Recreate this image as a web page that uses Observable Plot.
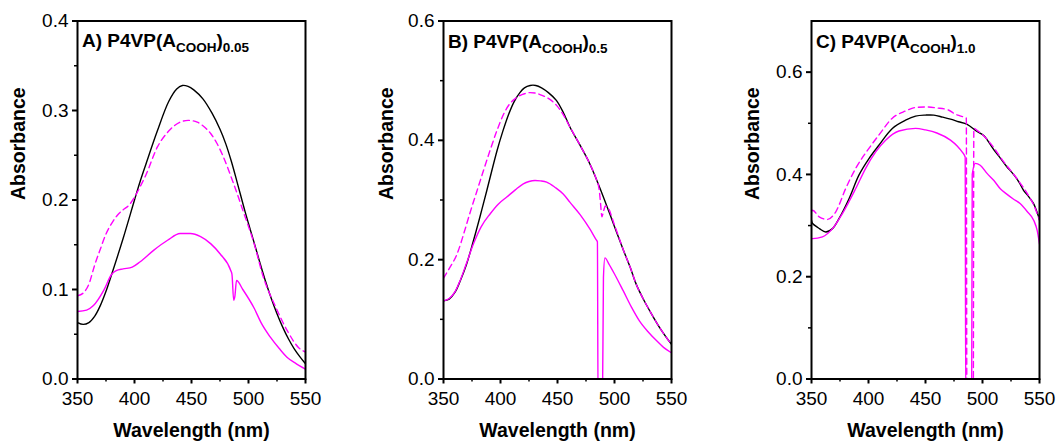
<!DOCTYPE html>
<html><head><meta charset="utf-8">
<script src="https://cdn.jsdelivr.net/npm/d3@7"></script>
<script src="https://cdn.jsdelivr.net/npm/@observablehq/plot@0.6"></script>
<style>
body{margin:0;background:#fff;}
#wrap{position:relative;width:1057px;height:442px;font-family:"Liberation Sans",Arial,sans-serif;}
#wrap svg{position:absolute;top:0;overflow:visible;}
</style></head><body><div id="wrap"></div>
<script>
// ---------- tick values ----------
const xMajor = [350, 400, 450, 500, 550];
const xMinor = [375, 425, 475, 525];
const aYMajor = [0, 0.1, 0.2, 0.3, 0.4];
const aYMinor = [0.05, 0.15, 0.25, 0.35];
const bYMajor = [0, 0.2, 0.4, 0.6];
const bYMinor = [0.1, 0.3, 0.5];
const cYMajor = [0, 0.2, 0.4, 0.6];
const cYMinor = [0.1, 0.3, 0.5];

// ---------- labels ----------
const xLabel = "Wavelength (nm)";
const yLabel = "Absorbance";
const panelLetters = ["A) P4VP(A", "B) P4VP(A", "C) P4VP(A"];
const panelSub1 = "COOH";
const panelSub2 = ["0.05", "0.5", "1.0"];

// ---------- Panel A ----------
const aBlackNm = [350,355,360,365,370,375,380,390,400,405,410,420,430,437,442,447,452,460,468,475,480,485,490,497,505,510,515,520,525,530,535,540,545,550];
const aBlack   = [.063,.061,.063,.070,.082,.098,.117,.157,.200,.221,.240,.277,.310,.324,.328,.327,.323,.313,.297,.279,.263,.243,.220,.187,.152,.130,.109,.090,.073,.058,.045,.034,.025,.017];
const aDashNm  = [350,355,360,365,370,375,380,385,390,395,400,405,410,420,430,440,447,455,460,467,472,478,487,496,505,513,524,534,544,550];
const aDash    = [.093,.096,.106,.127,.145,.162,.174,.183,.189,.194,.203,.215,.228,.259,.277,.287,.289,.287,.283,.274,.264,.248,.218,.185,.151,.114,.080,.054,.035,.030];
const aSolidNm = [350,358,364,373,380,384,390,398,405,417,429,440,449,458,467,475,484.5,485.5,487,488,489.5,495,505,511,519,527,534,542,550];
const aSolid   = [.0755,.077,.082,.099,.117,.121,.123,.125,.131,.144,.155,.1625,.1625,.159,.151,.140,.121,.117,.088,.092,.110,.100,.079,.063,.047,.034,.024,.017,.011];

// ---------- Panel B ----------
const bBlackNm = [350,355,360,365,370,376,382,388,397,402,407,412,417,421,426,431,436,442,449,455,461,470,478.5,487,496,502,508,514,519,525,531,540,550];
const bBlack   = [.131,.134,.145,.166,.191,.230,.272,.316,.383,.415,.443,.465,.480,.488,.492,.492,.488,.480,.467,.447,.422,.391,.360,.321,.276,.245,.215,.186,.159,.135,.114,.085,.058];
const bDashNm  = [350,355,362,368,373,379,385,391,397,403,408,413,417,421,426,431,437,443,449,455,461,470,478.5,484,486.5,487.5,489,490.2,492,494,500,508,514,519,525,531,540,550];
const bDash    = [.169,.185,.210,.245,.277,.313,.349,.384,.417,.445,.461,.470,.475,.478,.480,.479,.475,.469,.459,.443,.422,.391,.360,.335,.318,.300,.272,.280,.290,.288,.258,.215,.186,.159,.135,.114,.085,.058];
const bSolidNm = [350,355,360,364.6,370,376.3,383,391,398,405.5,413,420,425,430.3,435,440.5,448,455,461,470,478.5,483.7,485,485.6,489.4,490.3,491.6,495,500,507.6,515,522,530,537,543,550];
const bSolid   = [.131,.135,.146,.165,.193,.2265,.255,.277,.293,.305,.317,.327,.331,.3327,.332,.330,.321,.310,.296,.275,.251,.234,.230,-.05,-.05,.17,.203,.193,.176,.148,.120,.097,.078,.064,.053,.044];

// ---------- Panel C ----------
const cBlackNm = [350,351,357,362.5,368.4,374.2,383,391.7,400.4,409.1,420.9,432.5,441.3,450,457.3,465,471.9,479,486.5,495.2,501,504,510,515.6,521,527.2,532,536,540,544.8,549.1,550];
const cBlack   = [.310,.304,.294,.2875,.294,.314,.353,.399,.431,.457,.490,.506,.514,.516,.516,.512,.508,.503,.498,.484,.476,.468,.448,.432,.416,.400,.385,.369,.358,.343,.318,.312];
const cDashNm  = [350,351,356.7,364,371.3,380,388.8,400.4,409.1,420.9,432.5,441.3,450,460,470,476,481,485.8,486.3,491.9,492.4,496.6,506.9,518.5,530.2,540,545,550];
const cDash    = [.328,.330,.317,.312,.327,.3725,.412,.451,.477,.510,.524,.531,.532,.530,.526,.518,.514,.510,-.05,-.05,.490,.484,.461,.425,.392,.360,.340,.310];
const cSolidNm = [350,351,359.6,368.4,377.1,388.8,397.5,406.3,415,426.7,441.3,450,460,471.9,478,482.1,484.8,485.3,490.5,491,493.7,498,504,510,515.6,521,527,533,539,545,548,550];
const cSolid   = [.2745,.2745,.278,.294,.3235,.3725,.412,.444,.467,.485,.490,.487,.481,.467,.455,.444,.434,-.05,-.05,.40,.4216,.418,.402,.388,.372,.362,.352,.343,.328,.310,.290,.264];

const FONT = '"Liberation Sans", Arial, sans-serif';
const MAGENTA = "#ff00ff";
const toRows = (xs, ys) => xs.map((x, i) => ({x, y: ys[i]}));

const panels = [
  {left: 0,   width: 350, ml: 77, mr: 45, yMax: 0.4, yMajor: aYMajor, yMinor: aYMinor, ylabDx: -59,
   black: toRows(aBlackNm, aBlack), dash: toRows(aDashNm, aDash), solid: toRows(aSolidNm, aSolid), titleY: 47},
  {left: 355, width: 345, ml: 88, mr: 29, yMax: 0.6, yMajor: bYMajor, yMinor: bYMinor, ylabDx: -57,
   black: toRows(bBlackNm, bBlack), dash: toRows(bDashNm, bDash), solid: toRows(bSolidNm, bSolid), titleY: 48},
  {left: 715, width: 342, ml: 96, mr: 18, yMax: 0.7, yMajor: cYMajor, yMinor: cYMinor, ylabDx: -59,
   black: toRows(cBlackNm, cBlack), dash: toRows(cDashNm, cDash), solid: toRows(cSolidNm, cSolid), titleY: 48}
];

const wrap = document.getElementById("wrap");
panels.forEach((p, i) => {
  const svg = Plot.plot({
    width: p.width, height: 442,
    marginLeft: p.ml, marginRight: p.mr, marginTop: 20.5, marginBottom: 63.5,
    style: {fontFamily: FONT, color: "black", background: "transparent", overflow: "visible"},
    x: {domain: [350, 550]},
    y: {domain: [0, p.yMax]},
    marks: [
      Plot.line(p.black, {x: "x", y: "y", stroke: "black", strokeWidth: 1.4, curve: "catmull-rom", clip: true}),
      Plot.line(p.dash, {x: "x", y: "y", stroke: MAGENTA, strokeWidth: 1.4, strokeDasharray: "6,4", curve: "monotone-x", clip: true}),
      Plot.line(p.solid, {x: "x", y: "y", stroke: MAGENTA, strokeWidth: 1.4, curve: "monotone-x", clip: true}),
      Plot.frame({stroke: "black", strokeWidth: 2}),
      Plot.axisX({ticks: xMajor, tickSize: 5, tickPadding: 7, strokeWidth: 2, label: null, tickFormat: d => String(d), fontSize: 19}),
      Plot.axisX({ticks: xMinor, tickSize: 3, strokeWidth: 1.5, label: null, tickFormat: () => ""}),
      Plot.axisY({ticks: p.yMajor, tickSize: 5, tickPadding: 4, strokeWidth: 2, label: null, tickFormat: d3.format(".1f"), fontSize: 19}),
      Plot.axisY({ticks: p.yMinor, tickSize: 3, strokeWidth: 1.5, label: null, tickFormat: () => ""}),
      Plot.text([xLabel], {frameAnchor: "bottom", dy: 52, text: d => d, fontSize: 19.5, fontWeight: "bold", lineAnchor: "middle"}),
      Plot.text([yLabel], {frameAnchor: "left", dx: p.ylabDx, rotate: -90, text: d => d, fontSize: 19.5, fontWeight: "bold", lineAnchor: "middle"})
    ]
  });
  svg.style.left = p.left + "px";
  const t = d3.select(svg).append("text")
    .attr("x", p.ml + 5).attr("y", p.titleY)
    .attr("text-anchor", "start")
    .attr("font-family", FONT).attr("font-weight", "bold").attr("font-size", 19).attr("fill", "black");
  t.append("tspan").text(panelLetters[i]);
  t.append("tspan").attr("font-size", 13.5).attr("dy", 5).text(panelSub1);
  t.append("tspan").attr("dy", -5).text(")");
  t.append("tspan").attr("font-size", 13.5).attr("dy", 5).text(panelSub2[i]);
  wrap.appendChild(svg);
});
</script>
</body></html>
